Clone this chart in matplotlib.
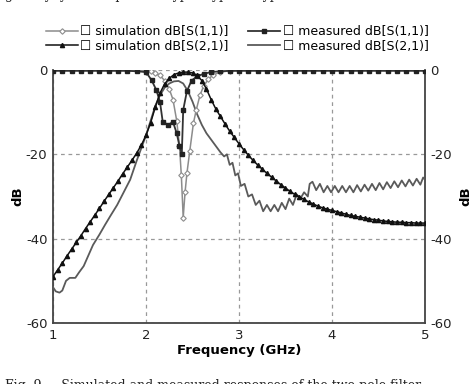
import matplotlib
matplotlib.use("Agg")
import matplotlib.pyplot as plt
import numpy as np

# ---------------- data ----------------
sim_s21_f = [1.00, 1.05, 1.10, 1.15, 1.20, 1.25, 1.30, 1.35, 1.40, 1.45, 1.50, 1.55,
             1.60, 1.65, 1.70, 1.75, 1.80, 1.85, 1.90, 1.95, 2.00, 2.05, 2.10, 2.15,
             2.20, 2.25, 2.30, 2.35, 2.40, 2.45, 2.50, 2.55, 2.60, 2.65, 2.70, 2.75,
             2.80, 2.85, 2.90, 2.95, 3.00, 3.05, 3.10, 3.15, 3.20, 3.25, 3.30, 3.35,
             3.40, 3.45, 3.50, 3.55, 3.60, 3.65, 3.70, 3.75, 3.80, 3.85, 3.90, 3.95,
             4.00, 4.05, 4.10, 4.15, 4.20, 4.25, 4.30, 4.35, 4.40, 4.45, 4.50, 4.55,
             4.60, 4.65, 4.70, 4.75, 4.80, 4.85, 4.90, 4.95, 5.00]
sim_s21_db = [-49.0, -47.4, -45.8, -44.1, -42.5, -40.9, -39.3, -37.6, -36.0, -34.4, -32.8, -31.1,
              -29.5, -27.9, -26.3, -24.6, -23.0, -21.4, -19.7, -17.8, -15.5, -12.5, -8.8, -5.5,
              -3.3, -2.0, -1.1, -0.7, -0.5, -0.5, -0.7, -1.3, -2.5, -4.5, -7.0, -9.2,
              -11.0, -12.8, -14.5, -16.0, -17.5, -18.9, -20.2, -21.4, -22.5, -23.5, -24.5, -25.4,
              -26.3, -27.2, -28.0, -28.8, -29.5, -30.1, -30.7, -31.3, -31.8, -32.3, -32.7, -33.0,
              -33.3, -33.6, -33.9, -34.2, -34.5, -34.7, -34.9, -35.1, -35.3, -35.5, -35.6, -35.8,
              -35.9, -36.0, -36.1, -36.1, -36.2, -36.2, -36.3, -36.3, -36.3]

sim_s11_f = [1.0, 1.1, 1.2, 1.3, 1.4, 1.5, 1.6, 1.7, 1.8, 1.9, 2.0, 2.05, 2.10, 2.15,
             2.20, 2.25, 2.29, 2.33, 2.36, 2.38, 2.40, 2.42, 2.44, 2.47, 2.51, 2.54,
             2.58, 2.62, 2.67, 2.72, 2.80, 2.90, 3.0, 3.1, 3.2, 3.3, 3.4, 3.5, 3.6,
             3.7, 3.8, 3.9, 4.0, 4.1, 4.2, 4.3, 4.4, 4.5, 4.6, 4.7, 4.8, 4.9, 5.0]
sim_s11_db = [0.0, 0.0, 0.0, 0.0, 0.0, 0.0, 0.0, 0.0, 0.0, -0.1, -0.2, -0.3, -0.7, -1.3,
              -2.5, -4.5, -7.0, -12.0, -18.0, -25.0, -35.0, -29.0, -24.5, -19.3, -12.6, -9.5,
              -6.0, -3.8, -2.2, -1.2, -0.5, -0.2, -0.1, 0.0, 0.0, 0.0, 0.0, 0.0, 0.0,
              0.0, 0.0, 0.0, 0.0, 0.0, 0.0, 0.0, 0.0, 0.0, 0.0, 0.0, 0.0, 0.0, 0.0]

meas_s11_f = [1.0, 1.1, 1.2, 1.3, 1.4, 1.5, 1.6, 1.7, 1.8, 1.9, 2.0, 2.06, 2.11, 2.15,
              2.18, 2.24, 2.29, 2.33, 2.36, 2.385, 2.40, 2.44, 2.49, 2.55, 2.62, 2.70,
              2.80, 2.9, 3.0, 3.1, 3.2, 3.3, 3.4, 3.5, 3.6, 3.7, 3.8, 3.9, 4.0, 4.1,
              4.2, 4.3, 4.4, 4.5, 4.6, 4.7, 4.8, 4.9, 5.0]
meas_s11_db = [-0.2, -0.2, -0.2, -0.2, -0.2, -0.2, -0.2, -0.2, -0.2, -0.3, -0.5, -2.4, -4.7, -7.5,
               -12.3, -13.0, -12.3, -15.0, -18.0, -20.0, -9.5, -5.0, -2.5, -1.5, -0.9, -0.5,
               -0.3, -0.2, -0.2, -0.2, -0.2, -0.2, -0.2, -0.2, -0.2, -0.2, -0.2, -0.2, -0.2, -0.2,
               -0.2, -0.2, -0.2, -0.2, -0.2, -0.2, -0.2, -0.2, -0.2]

meas_s21_f = [1.00, 1.03, 1.07, 1.10, 1.14, 1.18, 1.24, 1.28, 1.33, 1.38, 1.43, 1.50,
              1.56, 1.62, 1.69, 1.76, 1.83, 1.90, 1.95, 2.00, 2.05, 2.10, 2.15, 2.20,
              2.25, 2.30, 2.35, 2.40, 2.45, 2.50, 2.55, 2.60, 2.65, 2.70, 2.75, 2.80,
              2.84, 2.87, 2.90, 2.93, 2.96, 2.99, 3.02, 3.06, 3.10, 3.14, 3.18, 3.22,
              3.26, 3.30, 3.34, 3.38, 3.42, 3.46, 3.50, 3.54, 3.58, 3.62, 3.66, 3.70,
              3.74, 3.76, 3.79, 3.83, 3.87, 3.91, 3.95, 3.99, 4.03, 4.07, 4.11, 4.15,
              4.19, 4.23, 4.27, 4.31, 4.35, 4.39, 4.43, 4.47, 4.51, 4.55, 4.59, 4.63,
              4.67, 4.71, 4.75, 4.79, 4.83, 4.87, 4.91, 4.95, 4.98, 5.00]
meas_s21_db = [-51.5, -52.5, -52.8, -52.3, -50.0, -49.3, -49.3, -48.0, -46.5, -44.0, -41.5, -39.0,
               -36.7, -34.5, -32.0, -29.0, -26.0, -21.5, -18.5, -15.5, -12.0, -8.5, -6.0, -4.2,
               -3.2, -2.7, -2.6, -3.2, -5.0, -7.5, -10.5, -13.0, -15.0, -16.5, -18.0, -19.5,
               -20.5, -20.0, -22.5, -22.0, -25.0, -24.5, -27.5, -27.0, -30.0, -29.5, -32.0, -31.0,
               -33.5, -32.0, -33.5, -32.0, -33.5, -31.5, -33.0, -30.5, -32.0, -29.5, -30.5, -29.0,
               -30.0, -27.0, -26.5, -28.5, -27.0, -29.0, -27.5, -29.0, -27.5, -29.0, -27.5, -29.0,
               -27.5, -29.0, -27.3, -28.8, -27.2, -28.6, -27.0, -28.5, -26.8, -28.3, -26.6, -28.0,
               -26.4, -27.8, -26.2, -27.6, -26.0, -27.4, -25.8, -27.2, -25.5, -26.0]

x_ticks = [1, 2, 3, 4, 5]
y_ticks = [-60, -40, -20, 0]

labels = ["\u2610 simulation dB[S(1,1)]", "\u2610 simulation dB[S(2,1)]",
          "\u2610 measured dB[S(1,1)]", "\u2610 measured dB[S(2,1)]"]

# ---------------- figure ----------------
plt.rcParams['font.family'] = ['DejaVu Sans']
fig = plt.figure(figsize=(4.74, 3.84), dpi=100)
ax = fig.add_axes([53/474, 1-323/384, (425-53)/474, (323-70)/384])

l_sim11, = ax.plot(sim_s11_f, sim_s11_db, color='#8c8c8c', lw=1.1, marker='D', ms=2.8,
                   mfc='white', mec='#8c8c8c', mew=0.8, zorder=4)
l_sim21, = ax.plot(sim_s21_f, sim_s21_db, color='#111111', lw=1.1, marker='^', ms=3.0,
                   mfc='#111111', mec='#111111', zorder=5)
l_meas11, = ax.plot(meas_s11_f, meas_s11_db, color='#333333', lw=1.3, marker='s', ms=3.2,
                    mfc='#222222', mec='#222222', zorder=4)
l_meas21, = ax.plot(meas_s21_f, meas_s21_db, color='#5a5a5a', lw=1.3, zorder=3)

ax.set_xlim(1, 5)
ax.set_ylim(-60, 0)
ax.set_xticks(x_ticks)
ax.set_yticks(y_ticks)
ax.set_xticklabels([str(v) for v in x_ticks], fontsize=9.5)
ax.set_yticklabels([str(v) for v in y_ticks], fontsize=9.5)
ax.tick_params(length=0, pad=4, labelright=True, right=False, colors='#222222')
ax.grid(True, color='#999999', ls=(0, (3, 3)), lw=0.9)
for s in ax.spines.values():
    s.set_color('#444444')
    s.set_linewidth(1.3)
ax.spines['top'].set_visible(False)

ax.set_xlabel("Frequency (GHz)", fontsize=9.5, fontweight='bold', labelpad=2)
fig.text(18/474, 1-196/384, "dB", fontsize=9.5, fontweight='bold', rotation=90,
         ha='center', va='center')
fig.text(466/474, 1-196/384, "dB", fontsize=9.5, fontweight='bold', rotation=90,
         ha='center', va='center')

fig.legend([l_sim11, l_sim21, l_meas11, l_meas21],
           [labels[0], labels[1], labels[2], labels[3]],
           ncol=2, loc='center', bbox_to_anchor=(0.5, 1-39/384), frameon=False,
           fontsize=9, handlelength=2.6, handletextpad=0.2, columnspacing=1.5,
           labelspacing=0.1, borderaxespad=0)

fig.text(0.01, 1-386/384, "Fig. 9.    Simulated and measured responses of the two-pole filter.",
         family='DejaVu Serif', fontsize=9, va='center', ha='left', color='#222222')
fig.text(0.01, 1+5/384, "g. 9.  ly  y     the  p  se   e  yp   l  ypical  type",
         family='DejaVu Serif', fontsize=9, va='center', ha='left', color='#222222')

fig.savefig("out.png", dpi=100)
